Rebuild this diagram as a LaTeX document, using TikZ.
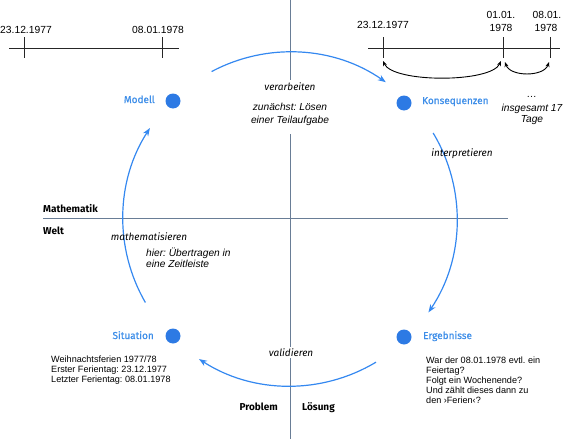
\documentclass[tikz,border=0pt]{standalone}
\usepackage{fontspec}
\setmainfont{Liberation Sans}
\newfontfamily\synfont{Fira Sans}
\newfontfamily\labfont{Fira Sans}[FakeBold=0.9]
\frenchspacing
\usetikzlibrary{arrows.meta,positioning}
\definecolor{cycblue}{RGB}{52,136,240}
\definecolor{dotblue}{RGB}{45,122,228}
\definecolor{lblblue}{RGB}{62,142,232}
\definecolor{axisgray}{RGB}{105,125,150}
\tikzset{
  phase/.style={circle, fill=dotblue, minimum size=15pt, inner sep=0pt},
  phaselab/.style={font=\labfont\fontsize{10}{12}\selectfont, text=lblblue, inner sep=0pt},
  verb/.style={font=\synfont\itshape\fontsize{10}{12}\selectfont, inner sep=0pt},
  note/.style={font=\itshape\fontsize{10.2}{11}\selectfont, align=center, inner sep=0pt},
  desc/.style={font=\fontsize{9.1}{10}\selectfont, align=left, inner sep=0pt},
  realm/.style={font=\synfont\bfseries\fontsize{10}{12}\selectfont, inner sep=0pt},
  datelab/.style={font=\fontsize{10.3}{12}\selectfont, inner sep=0pt},
  axis/.style={draw=axisgray, line width=0.8pt},
  tline/.style={line width=0.9pt, black!85},
  cyc/.style={draw=cycblue, line width=1.2pt, -{Stealth[length=8pt, width=6pt]}},
  span/.style={line width=0.9pt, {Stealth[length=5pt, width=4pt]}-{Stealth[length=5pt, width=4pt]}}
}
\begin{document}
\begin{tikzpicture}[x=1pt,y=-1pt]
\useasboundingbox (0,0) rectangle (563,439);

% ---------------- Axes ----------------
\draw[axis] (290,0) -- (290,80);
\draw[axis] (290,134) -- (290,439);
\draw[axis] (43,218) -- (508,218);
\node[realm, anchor=base west] (mathe) at (43,212) {Mathematik};
\node[realm, anchor=base west] (welt) at (43,234) {Welt};
\node[realm, anchor=base east] (problem) at (278,410) {Problem};
\node[realm, anchor=base west] (loesung) at (302,410) {Lösung};

% ---------------- Phases ----------------
\node[phase] (modell) at (173,101) {};
\node[phaselab, anchor=base east] at (155,103) {Modell};
\node[phase] (konseq) at (404,103) {};
\node[phaselab, anchor=base west] at (422,104) {Konsequenzen};
\node[phase] (situation) at (173,336) {};
\node[phaselab, anchor=base east] at (154,339) {Situation};
\node[phase] (ergebn) at (404,337) {};
\node[phaselab, anchor=base west] at (423,339) {Ergebnisse};

% ---------------- Cycle ----------------
\coordinate (c) at (290,219);
\draw[cyc] ([shift={(-118:167)}]c) arc[start angle=-118, end angle=-55, radius=167];
\draw[cyc] ([shift={(-31:167)}]c) arc[start angle=-31, end angle=34, radius=167];
\draw[cyc] ([shift={(59:167)}]c) arc[start angle=59, end angle=123, radius=167];
\draw[cyc] ([shift={(150:167)}]c) arc[start angle=150, end angle=213, radius=167];

\node[verb, anchor=base] (verarb) at (290,90) {verarbeiten};
\node[note, anchor=north] (loesen) at (290,103) {zunächst: Lösen\\[2pt]einer Teilaufgabe};
\node[verb, anchor=base] (interp) at (462,156) {interpretieren};
\node[verb, anchor=base, fill=white, inner sep=1.5pt] (valid) at (291,356) {validieren};
\node[verb, anchor=base] (mathem) at (149,240) {mathematisieren};
\node[note, align=left, anchor=north west] (uebertr) at (146,248) {hier: Übertragen in\\eine Zeitleiste};

% ---------------- Descriptions ----------------
\node[desc, anchor=north west] (sitdesc) at (51,356)
  {Weihnachtsferien 1977/78\\Erster Ferientag: 23.12.1977\\Letzter Ferientag: 08.01.1978};
\node[desc, anchor=north west] (ergdesc) at (426,357)
  {War der 08.01.1978 evtl. ein\\Feiertag?\\Folgt ein Wochenende?\\Und zählt dieses dann zu\\den ›Ferien‹?};

% ---------------- Timeline left ----------------
\draw[tline] (9,48) -- (179,48);
\draw[tline] (24,37) -- (24,58);
\draw[tline] (162,37) -- (162,58);
\node[datelab, anchor=base] at (26,33) {23.12.1977};
\node[datelab, anchor=base] at (158,33) {08.01.1978};

% ---------------- Timeline right ----------------
\draw[tline] (368,48) -- (560,48);
\draw[tline] (383,37) -- (383,58);
\draw[tline] (503,37) -- (503,58);
\draw[tline] (550,37) -- (550,58);
\node[datelab, anchor=base] at (383,28) {23.12.1977};
\node[datelab, anchor=base] at (501,19) {01.01.};
\node[datelab, anchor=base] at (501,31) {1978};
\node[datelab, anchor=base] at (547,19) {08.01.};
\node[datelab, anchor=base] at (546,31) {1978};
\coordinate (ra) at (383,61);
\coordinate (rbl) at (501,61);
\coordinate (rbr) at (505,62);
\coordinate (rc) at (549,62);
\draw[span] (ra) .. controls +(10,22) and +(-10,22) .. (rbl);
\draw[span] (rbr) .. controls +(5,15) and +(-5,15) .. (rc);
\node[note, anchor=north] (gesamt) at (532,96) {\dots\\[3pt]insgesamt 17\\Tage};

\end{tikzpicture}
\end{document}
